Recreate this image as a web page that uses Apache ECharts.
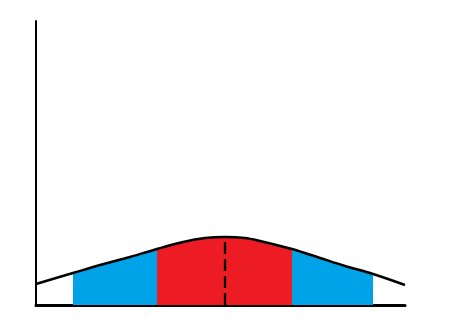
<!DOCTYPE html>
<html>
<head>
<meta charset="utf-8">
<script src="https://cdn.jsdelivr.net/npm/echarts@6/dist/echarts.min.js"></script>
<style>html,body{margin:0;padding:0;background:#fff}#c{width:450px;height:335px}</style>
</head>
<body>
<div id="c"></div>
<script>
// Curve samples (x position, height above baseline)
const curveX = [0, 37, 64, 94, 121, 147, 169, 189, 209, 224, 256, 284, 309, 337, 369];
const curveY = [21, 32, 40, 48, 56, 63, 67, 68, 67, 64, 56, 47, 39, 31, 20];
// Shaded bands: [start, end, color]
const bandStarts = [37, 121, 256];
const bandEnds = [121, 256, 337];
const bandColors = ['#00A2E8', '#ED1C24', '#00A2E8'];
const meanX = 189;

const pts = curveX.map((x, i) => [x, curveY[i]]);
const peak = curveY[curveX.indexOf(meanX)];

const series = [];
bandStarts.forEach((s, k) => {
  const e = bandEnds[k];
  series.push({
    type: 'line', smooth: 0.35, symbol: 'none', silent: true,
    data: pts.filter(p => p[0] >= s && p[0] <= e),
    lineStyle: { width: 0, color: bandColors[k] },
    areaStyle: { color: bandColors[k], opacity: 1 },
    z: 1
  });
});
series.push({
  type: 'line', smooth: 0.35, symbol: 'none', silent: true,
  data: pts,
  lineStyle: { width: 2.5, color: '#000' },
  z: 3
});
series.push({
  type: 'line', symbol: 'none', silent: true,
  data: [[meanX, 0], [meanX, peak]],
  lineStyle: { width: 2.3, color: '#000', type: [12, 5] },
  z: 4
});

const chart = echarts.init(document.getElementById('c'));
chart.setOption({
  animation: false,
  backgroundColor: '#fff',
  grid: { left: 36, right: 45, top: 21, bottom: 30 },
  xAxis: {
    type: 'value', min: 0, max: 369,
    axisLine: { show: true, onZero: false, lineStyle: { color: '#000', width: 3 } },
    axisTick: { show: false }, axisLabel: { show: false }, splitLine: { show: false }
  },
  yAxis: {
    type: 'value', min: 0, max: 284,
    axisLine: { show: true, onZero: false, lineStyle: { color: '#000', width: 2 } },
    axisTick: { show: false }, axisLabel: { show: false }, splitLine: { show: false }
  },
  series: series
});
</script>
</body>
</html>
